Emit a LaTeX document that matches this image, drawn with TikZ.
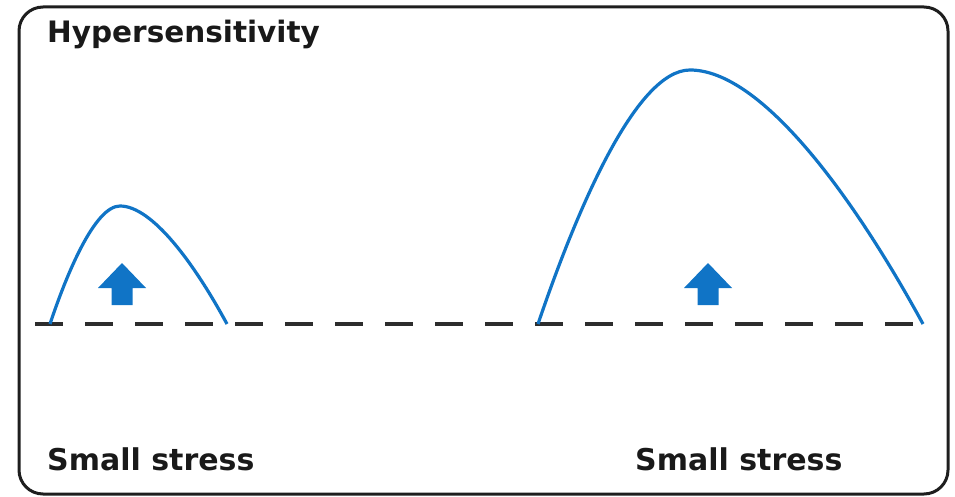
\documentclass[tikz,border=0pt]{standalone}
\usepackage{fontspec}
\setmainfont{DejaVu Sans}
\definecolor{curveblue}{RGB}{16,116,198}
\definecolor{dashgray}{RGB}{45,45,45}
\definecolor{frameblk}{RGB}{30,30,30}
\begin{document}
\begin{tikzpicture}[x=1pt,y=-1pt,
  frame/.style={draw=frameblk,line width=3pt,rounded corners=24pt},
  baseline line/.style={draw=dashgray,line width=4.5pt,dash pattern=on 28pt off 22pt},
  response/.style={draw=curveblue,line width=3.2pt},
  uparrow/.style={fill=curveblue,draw=none},
  lbl/.style={inner sep=0pt,anchor=base west,font=\bfseries\fontsize{30}{30}\selectfont,text=black!90}]
\useasboundingbox (0,0) rectangle (955,497);
\draw[frame] (19,7) rectangle (948,494);
\node[lbl,font=\bfseries\fontsize{29.5}{29.5}\selectfont] (title) at (47,43) {Hypersensitivity};
\node[lbl] (s1) at (47,470) {Small stress};
\node[lbl] (s2) at (635,470) {Small stress};
\coordinate (b0) at (35,324);
\coordinate (b1) at (925,324);
\draw[baseline line] (b0) -- (b1);
% small response
\draw[response] (50,324) .. controls (67,273) and (95,206) .. (120,206)
  .. controls (152,206) and (194,263) .. (227,324);
% large response
\draw[response] (538,324) .. controls (575,215) and (635,70) .. (690,70)
  .. controls (760,70) and (851,192) .. (923,324);
% arrows
\fill[uparrow] (122,263) -- (146,288) -- (132.5,288) -- (132.5,305) -- (111.5,305) -- (111.5,288) -- (98,288) -- cycle;
\fill[uparrow] (708,263) -- (732,288) -- (718.5,288) -- (718.5,305) -- (697.5,305) -- (697.5,288) -- (684,288) -- cycle;
\end{tikzpicture}
\end{document}
